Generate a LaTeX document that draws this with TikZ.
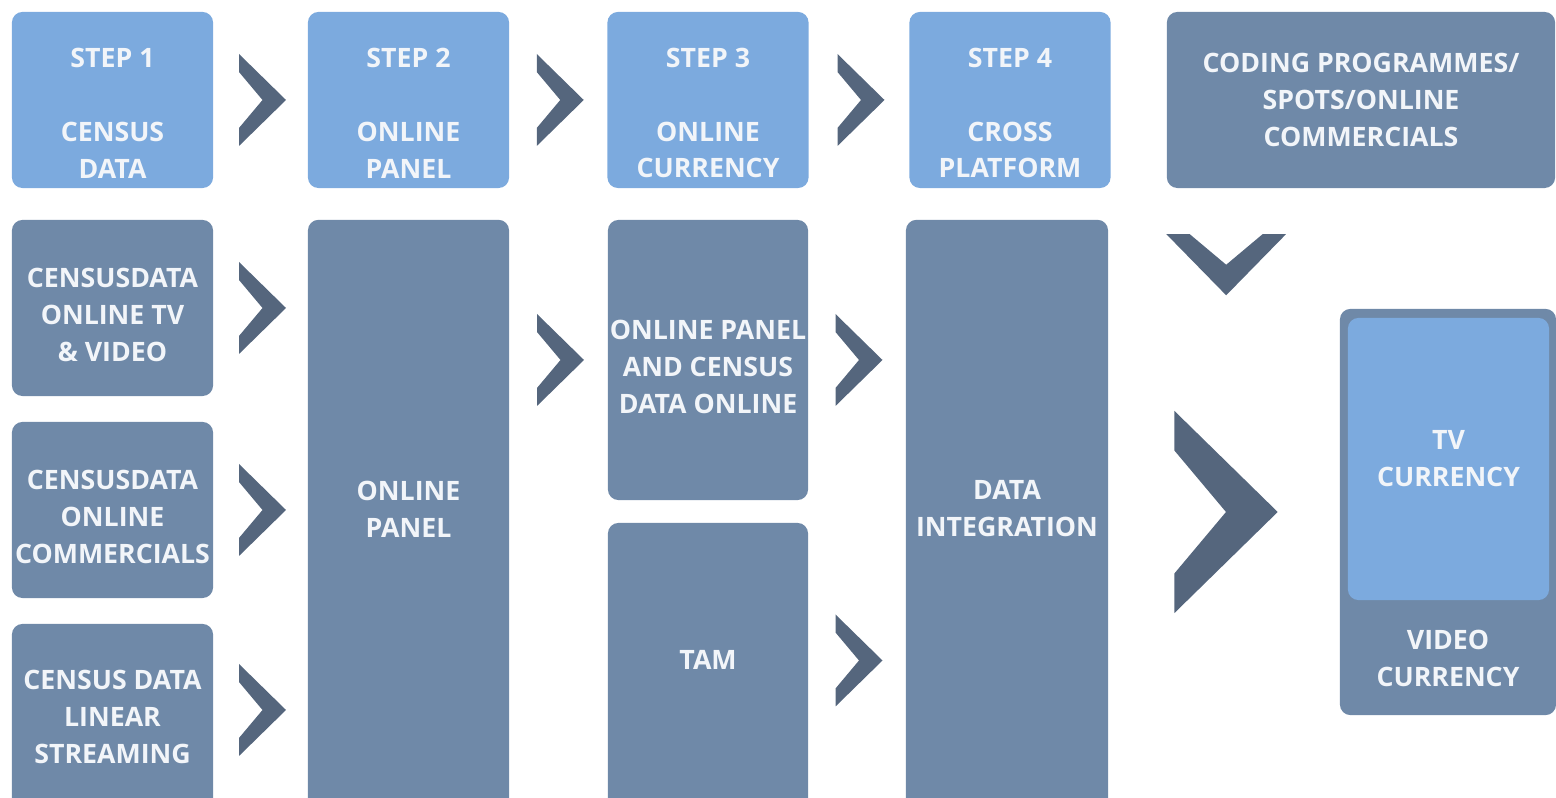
\documentclass[tikz,border=0pt]{standalone}
\usepackage{fontspec}
\setmainfont{Open Sans}
\usetikzlibrary{calc}
\definecolor{lite}{HTML}{7CAADE}
\definecolor{dark}{HTML}{6F89A8}
\definecolor{chevc}{HTML}{55667D}
\definecolor{ink}{HTML}{F2F5F9}
\begin{document}
\begin{tikzpicture}[x=0.01cm,y=-0.01cm,
    txt/.style={text=ink,font=\fontsize{7.6}{10.5}\selectfont\bfseries,align=center},
    box/.style={rectangle,rounded corners=3pt,inner sep=0pt,minimum width=2.01cm,minimum height=1.76cm,txt},
    lt/.style={box,fill=lite},
    dk/.style={box,fill=dark},
    chev/.pic={\fill[chevc] (-23.5,-46)--(23.5,0)--(-23.5,46)--(-23.5,28)--(0,0)--(-23.5,-28)--cycle;}]
  \useasboundingbox (0,0) rectangle (1556,798);
  \clip (0,0) rectangle (1556,798);
  % top row
  \node[lt] (s1) at (112.5,100) {};
  \node[lt] (s2) at (408.5,100) {};
  \node[lt] (s3) at (708,100) {};
  \node[lt] (s4) at (1010,100) {};
  \node[txt] (s1t) at ([yshift=-3.7pt]s1.center) {STEP 1\\[10.5pt]CENSUS\\DATA};
  \node[txt] (s2t) at ([yshift=-3.7pt]s2.center) {STEP 2\\[10.5pt]ONLINE\\PANEL};
  \node[txt] (s3t) at ([yshift=-3.7pt]s3.center) {STEP 3\\[10.5pt]ONLINE\\CURRENCY};
  \node[txt] (s4t) at ([yshift=-3.7pt]s4.center) {STEP 4\\[10.5pt]CROSS\\PLATFORM};
  \node[dk,minimum width=3.88cm] (code) at (1361,100) {CODING PROGRAMMES/\\SPOTS/ONLINE\\COMMERCIALS};
  % columns
  \node[dk] (tv) at (112.5,308) {};
  \node[txt] (tvt) at ([yshift=-2pt]tv.center) {CENSUSDATA\\ONLINE TV\\\& VIDEO};
  \node[dk] (com) at (112.5,510) {};
  \node[txt] (comt) at ([yshift=-2pt]com.center) {CENSUSDATA\\ONLINE\\COMMERCIALS};
  \node[dk,minimum height=1.84cm] (lin) at (112.5,716) {};
  \node[txt] (lint) at (112.5,717) {CENSUS DATA\\LINEAR\\STREAMING};
  \node[dk,minimum height=5.9cm] (pan) at (408.5,515) {};
  \node[txt] (pant) at (408.5,509) {ONLINE\\PANEL};
  \node[dk,minimum width=2cm,minimum height=2.8cm] (opc) at (708,360) {};
  \node[txt] (opct) at ([yshift=-2pt]opc.center) {ONLINE PANEL\\AND CENSUS\\DATA ONLINE};
  \node[dk,minimum width=2cm,minimum height=2.85cm] (tam) at (708,665.5) {};
  \node[txt] (tamt) at (708,660) {TAM};
  \node[dk,minimum width=2.02cm,minimum height=5.9cm] (dat) at (1007,515) {};
  \node[txt] (datt) at (1007,509) {DATA\\INTEGRATION};
  \node[dk,minimum width=2.16cm,minimum height=4.06cm] (cur) at (1448,512) {};
  \node[lt,minimum height=2.82cm] (tvc) at (1448.5,459) {TV\\CURRENCY};
  \node[txt] (vid) at (1448,658) {VIDEO\\CURRENCY};
  % chevrons
  \pic at ($(s1.east)!0.5!(s2.west)+(2,0)$) {chev};
  \pic at ($(s2.east)!0.5!(s3.west)+(2,0)$) {chev};
  \pic at ($(s3.east)!0.5!(s4.west)+(2,0)$) {chev};
  \pic at ($(tv.east)!0.5!(tv.east-|pan.west)+(2,0)$) {chev};
  \pic at ($(com.east)!0.5!(com.east-|pan.west)+(2,0)$) {chev};
  \pic at ($(lin.east)!0.5!(lin.east-|pan.west)+(2,-6)$) {chev};
  \pic at ($(opc.west-|pan.east)!0.5!(opc.west)+(2,0)$) {chev};
  \pic at ($(opc.east)!0.5!(opc.east-|dat.west)+(2,0)$) {chev};
  \pic at ($(tam.east)!0.5!(tam.east-|dat.west)+(2,-5)$) {chev};
  \pic[scale=2.2] at ($(dat.east|-cur.west)!0.5!(cur.west)+(2,0)$) {chev};
  \pic[scale=1.3,rotate=-90] at ($(code.south west)+(60,76)$) {chev};
\end{tikzpicture}
\end{document}
